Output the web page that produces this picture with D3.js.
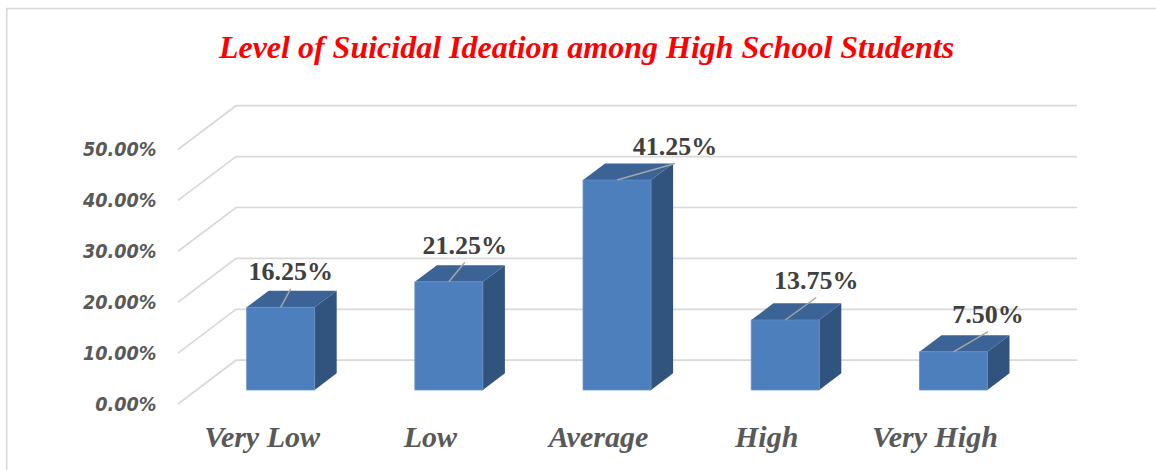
<!DOCTYPE html>
<html>
<head>
<meta charset="utf-8">
<script src="https://cdn.jsdelivr.net/npm/d3@7/dist/d3.min.js"></script>
<style>
  html, body { margin: 0; padding: 0; background: #ffffff; }
  svg { display: block; }
</style>
</head>
<body>
<svg id="chart" width="1156" height="470"></svg>
<script>
// ---- data ----
const categories = ["Very Low", "Low", "Average", "High", "Very High"];
const values = [16.25, 21.25, 41.25, 13.75, 7.50];
const valueLabels = ["16.25%", "21.25%", "41.25%", "13.75%", "7.50%"];
const tickValues = [0, 10, 20, 30, 40, 50];
const tickLabels = ["0.00%", "10.00%", "20.00%", "30.00%", "40.00%", "50.00%"];
const titleText = "Level of Suicidal Ideation among High School Students";

// ---- layout (not data) ----
const labelNudge = [[10, -27], [16, -28], [58, -25], [31, -31], [34.5, -28.6]];
const depthX = 58, depthY = -43.8;
const barFront = 0.32, barBack = 0.70;
const barWidth = 68;

const svg = d3.select("#chart");

// frame
svg.append("path")
  .attr("d", "M6.75,470 L6.75,8.5 L1156,8.5")
  .attr("fill", "none").attr("stroke", "#d9d9d9").attr("stroke-width", 1.6);

const x = d3.scaleBand().domain(categories).range([178, 1019]).padding(0);
const y = d3.scaleLinear().domain([0, 50]).range([404, 149.5]);

function P(px, v, d) { return [px + depthX * d, y(v) + depthY * d]; }
const poly = pts => "M" + pts.map(p => p[0].toFixed(2) + "," + p[1].toFixed(2)).join("L") + "Z";

// title
svg.append("text")
  .attr("x", 586.5).attr("y", 57.7)
  .attr("text-anchor", "middle")
  .attr("font-family", "'Liberation Serif', 'Times New Roman', serif")
  .attr("font-weight", "bold").attr("font-style", "italic")
  .attr("font-size", 32).attr("fill", "#ff0000")
  .text(titleText);

// gridlines (left wall + back wall)
const xr0 = x.range()[0], xr1 = x.range()[1];
svg.append("g").selectAll("path").data(tickValues).join("path")
  .attr("d", v => {
    const a = P(xr0, v, 0), b = P(xr0, v, 1), c = P(xr1, v, 1);
    return `M${a[0]},${a[1]}L${b[0]},${b[1]}L${c[0]},${c[1]}`;
  })
  .attr("fill", "none").attr("stroke", "#d9d9d9").attr("stroke-width", 1.7);

// y axis labels
const yAxis = svg.append("g")
  .attr("transform", `translate(${xr0},0)`)
  .call(d3.axisLeft(y).tickValues(tickValues)
    .tickFormat((d, i) => tickLabels[i]).tickSize(0).tickPadding(21.5));
yAxis.select(".domain").remove();
yAxis.selectAll("text")
  .attr("font-family", "'DejaVu Sans Condensed', 'DejaVu Sans', sans-serif")
  .attr("font-stretch", "condensed")
  .attr("font-weight", "bold").attr("font-style", "italic")
  .attr("font-size", 19.6).attr("fill", "#595959");

// x axis labels
const xAxis = svg.append("g")
  .call(d3.axisBottom(x).tickSize(0).tickPadding(0));
xAxis.select(".domain").remove();
xAxis.selectAll("text")
  .attr("y", 447).attr("dy", null)
  .attr("font-family", "'Liberation Serif', 'Times New Roman', serif")
  .attr("font-weight", "bold").attr("font-style", "italic")
  .attr("font-size", 30).attr("fill", "#595959");

// bars
const bars = svg.append("g").selectAll("g").data(categories).join("g");
function barGeom(c, i) {
  const xl = x(c) + (x.bandwidth() - barWidth) / 2;
  const xr = xl + barWidth;
  const v = values[i];
  return { xl, xr, v };
}
bars.append("path").attr("d", (c, i) => {
  const g = barGeom(c, i);
  return poly([P(g.xr, 0, barFront), P(g.xr, 0, barBack), P(g.xr, g.v, barBack), P(g.xr, g.v, barFront)]);
}).attr("fill", "#31547f");
bars.append("path").attr("d", (c, i) => {
  const g = barGeom(c, i);
  return poly([P(g.xl, g.v, barFront), P(g.xr, g.v, barFront), P(g.xr, g.v, barBack), P(g.xl, g.v, barBack)]);
}).attr("fill", "#3b6396");
bars.append("path").attr("d", (c, i) => {
  const g = barGeom(c, i);
  return poly([P(g.xl, 0, barFront), P(g.xr, 0, barFront), P(g.xr, g.v, barFront), P(g.xl, g.v, barFront)]);
}).attr("fill", "#4e7fbd").attr("stroke", "#5f8dc6").attr("stroke-width", 0.8);

// leader lines + labels
bars.each(function (c, i) {
  const g = barGeom(c, i);
  const top = P((g.xl + g.xr) / 2, g.v, barFront);
  const lx = top[0] + labelNudge[i][0];
  const ly = top[1] + labelNudge[i][1];
  d3.select(this).append("line")
    .attr("x1", top[0]).attr("y1", top[1])
    .attr("x2", lx).attr("y2", ly + 8.5)
    .attr("stroke", "#a6a6a6").attr("stroke-width", 1.5);
  d3.select(this).append("text")
    .attr("x", lx).attr("y", ly)
    .attr("text-anchor", "middle")
    .attr("font-family", "'Liberation Serif', 'Times New Roman', serif")
    .attr("font-weight", "bold")
    .attr("font-size", 26).attr("fill", "#404040")
    .text(valueLabels[i]);
});
</script>
</body>
</html>
